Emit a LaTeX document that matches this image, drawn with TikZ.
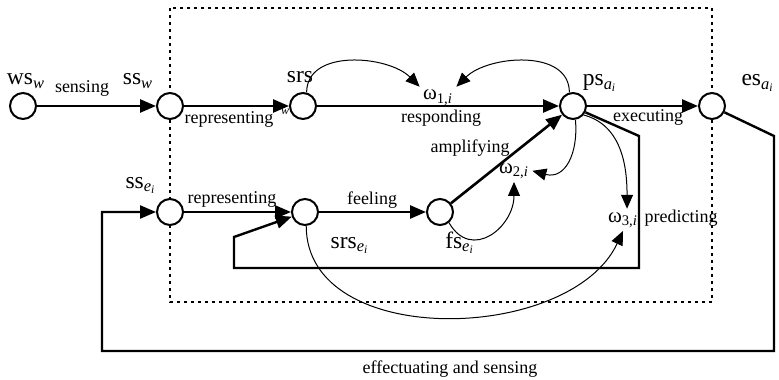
\documentclass[tikz,border=0pt]{standalone}
\usepackage{fontspec}
\setmainfont{Liberation Serif}
\usetikzlibrary{arrows.meta,positioning}

\begin{document}
\begin{tikzpicture}[x=0.5pt,y=0.5pt,
    st/.style={circle,draw,line width=1pt,fill=white,minimum size=13pt,inner sep=0pt},
    nm/.style={anchor=base,inner sep=0pt,font=\fontsize{11.75}{13}\selectfont},
    lab/.style={anchor=base,inner sep=0pt,font=\fontsize{9}{10}\selectfont},
    om/.style={anchor=base,inner sep=1.5pt,font=\fontsize{10.5}{12}\selectfont},
    thk/.style={line width=1.3pt,-{Triangle[length=8pt,width=6.5pt]}},
    warc/.style={line width=0.5pt,-{Triangle[length=7pt,width=6pt]}},
    fb/.style={line width=1.2pt,-{Triangle[length=8pt,width=6.5pt]}}]
  \useasboundingbox (0,0) rectangle (779,-379);
  % agent border
  \draw[line width=1.3pt,dash pattern=on 1.3pt off 2.2pt] (170,-8) rectangle (712,-302);
  % states
  \node[st] (ws)    at (23,-106)  {};
  \node[st] (ssw)   at (170,-106) {};
  \node[st] (srs)   at (303,-106) {};
  \node[st] (ps)    at (573,-106) {};
  \node[st] (es)    at (712,-106) {};
  \node[st] (ssei)  at (170,-212) {};
  \node[st] (srsei) at (305,-212) {};
  \node[st] (fs)    at (440,-212) {};
  % state names
  \node[nm] (nws)    at (26,-85)   {ws\textsubscript{\textit{w}}};
  \node[nm] (nssw)   at (138,-85)  {ss\textsubscript{\textit{w}}};
  \node[nm] (nsrs)   at (300,-83)  {srs};
  \node[nm] (nps)    at (600,-86)  {ps\textsubscript{\textit{a}\textsubscript{\textit{i}}}};
  \node[nm] (nes)    at (758,-86)  {es\textsubscript{\textit{a}\textsubscript{\textit{i}}}};
  \node[nm] (nssei)  at (141,-188) {ss\textsubscript{\textit{e}\textsubscript{\textit{i}}}};
  \node[nm] (nsrsei) at (350,-248) {srs\textsubscript{\textit{e}\textsubscript{\textit{i}}}};
  \node[nm] (nfs)    at (460,-248) {fs\textsubscript{\textit{e}\textsubscript{\textit{i}}}};
  % weights
  \node[om] (w1) at (438,-100) {ω\textsubscript{1,\textit{i}}};
  \node[om] (w2) at (514,-173) {ω\textsubscript{2,\textit{i}}};
  \node[om] (w3) at (623,-222) {ω\textsubscript{3,\textit{i}}};
  % main connections
  \draw[thk] (ws) -- (ssw);
  \draw[thk] (ssw) -- (srs);
  \draw[thk] (srs) -- (ps);
  \draw[thk] (ps) -- (es);
  \draw[thk] (ssei) -- (srsei);
  \draw[thk] (srsei) -- (fs);
  \draw[thk] (fs) -- (ps);
  % loops
  \draw[fb] (ps.-27) -- (639,-136) -- (639,-268) -- (234,-268) -- (234,-237) -- (srsei);
  \draw[fb] (es.-27) -- (774,-136) -- (774,-351) -- (102,-351) -- (102,-212) -- (ssei);
  % modulation arcs
  \draw[warc] (srs.75) to[out=90,in=135] (w1.north west);
  \draw[warc] (ps.105) to[out=90,in=45] (w1.north east);
  \draw[warc] (fs.-50) to[out=-60,in=-90,looseness=1.5] (w2.south);
  \draw[warc] (ps.-80) to[out=-85,in=-15,looseness=1.3] (w2.east);
  \draw[warc] (ps.-40) to[out=-15,in=90] (w3.70);
  \draw[warc] (srsei.-85) to[out=-90,in=-115] (w3.south);
  % labels
  \node[lab] (lsen)  at (82,-93)   {sensing};
  \node[lab] (lrep1) at (229,-124) {representing};
  \node[font=\fontsize{6}{7}\selectfont\itshape,anchor=base,inner sep=0pt] (lw) at (285,-115) {w};
  \node[lab] (lresp) at (441,-123) {responding};
  \node[lab] (lexe)  at (648,-122) {executing};
  \node[lab] (lrep2) at (232,-203) {representing};
  \node[lab] (lfeel) at (372,-204) {feeling};
  \node[lab] (lamp)  at (470,-153) {amplifying};
  \node[lab] (lpred) at (681,-222) {predicting};
  \node[lab] (leff)  at (450,-373) {effectuating and sensing};
\end{tikzpicture}
\end{document}
